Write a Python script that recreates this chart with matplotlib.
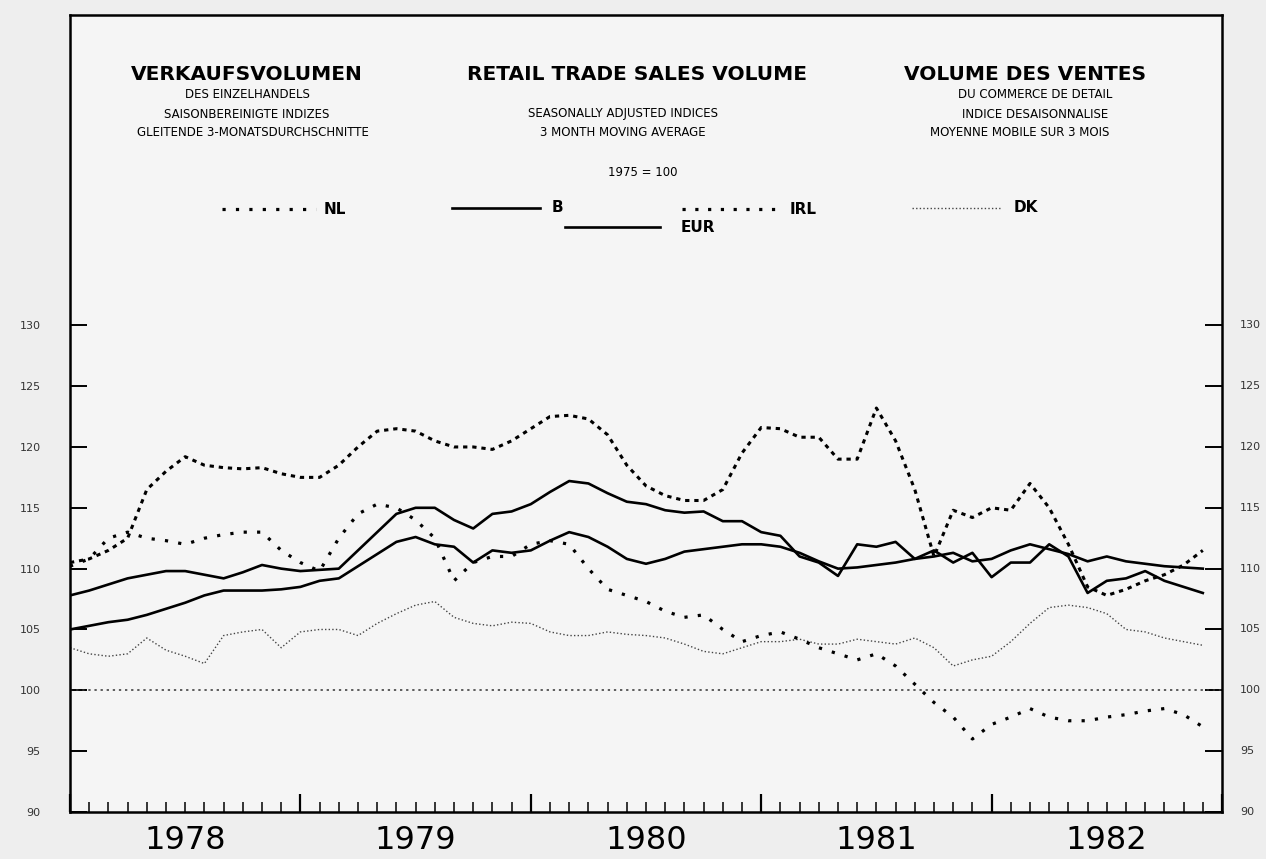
import matplotlib
matplotlib.use("Agg")
import matplotlib.pyplot as plt
import matplotlib.transforms as mtransforms
from matplotlib.ticker import FixedLocator, NullFormatter
import numpy as np

# ---------------- data (monthly, Jan 1978 .. Dec 1982) ----------------
start_year = 1978
months = list(range(60))

IRL = [110.5, 110.8, 111.5, 112.5, 116.5, 118.0, 119.2, 118.5, 118.3, 118.2,
       118.3, 117.8, 117.5, 117.5, 118.5, 120.0, 121.3, 121.5, 121.3, 120.5,
       120.0, 120.0, 119.8, 120.5, 121.5, 122.5, 122.6, 122.3, 121.0, 118.5,
       116.8, 116.0, 115.6, 115.6, 116.5, 119.5, 121.6, 121.5, 120.8, 120.8,
       119.0, 119.0, 123.2, 120.5, 116.5, 111.0, 114.8, 114.2, 115.0, 114.8,
       117.0, 115.0, 112.0, 108.5, 107.8, 108.3, 109.0, 109.5, 110.3, 111.5]

NL = [110.2, 110.8, 112.5, 113.0, 112.5, 112.3, 112.0, 112.5, 112.8, 113.0,
      113.0, 111.5, 110.5, 109.8, 112.5, 114.5, 115.3, 115.0, 114.0, 112.5,
      109.0, 110.5, 111.0, 111.0, 112.0, 112.3, 112.0, 110.0, 108.3, 107.8,
      107.3, 106.5, 106.0, 106.2, 105.0, 104.0, 104.5, 104.8, 104.2, 103.5,
      103.0, 102.5, 103.0, 102.0, 100.5, 99.0, 97.8, 96.0, 97.2, 97.8,
      98.5, 97.8, 97.5, 97.5, 97.8, 98.0, 98.3, 98.5, 98.0, 97.0]

DK = [103.5, 103.0, 102.8, 103.0, 104.3, 103.3, 102.8, 102.2, 104.5, 104.8,
      105.0, 103.5, 104.8, 105.0, 105.0, 104.5, 105.5, 106.3, 107.0, 107.3,
      106.0, 105.5, 105.3, 105.6, 105.5, 104.8, 104.5, 104.5, 104.8, 104.6,
      104.5, 104.3, 103.8, 103.2, 103.0, 103.5, 104.0, 104.0, 104.2, 103.8,
      103.8, 104.2, 104.0, 103.8, 104.3, 103.5, 102.0, 102.5, 102.8, 104.0,
      105.5, 106.8, 107.0, 106.8, 106.3, 105.0, 104.8, 104.3, 104.0, 103.7]

B = [107.8, 108.2, 108.7, 109.2, 109.5, 109.8, 109.8, 109.5, 109.2, 109.7,
     110.3, 110.0, 109.8, 109.9, 110.0, 111.5, 113.0, 114.5, 115.0, 115.0,
     114.0, 113.3, 114.5, 114.7, 115.3, 116.3, 117.2, 117.0, 116.2, 115.5,
     115.3, 114.8, 114.6, 114.7, 113.9, 113.9, 113.0, 112.7, 111.0, 110.5,
     109.4, 112.0, 111.8, 112.2, 110.8, 111.5, 110.5, 111.3, 109.3, 110.5,
     110.5, 112.0, 111.0, 108.0, 109.0, 109.2, 109.8, 109.0, 108.5, 108.0]

EUR = [105.0, 105.3, 105.6, 105.8, 106.2, 106.7, 107.2, 107.8, 108.2, 108.2,
       108.2, 108.3, 108.5, 109.0, 109.2, 110.2, 111.2, 112.2, 112.6, 112.0,
       111.8, 110.5, 111.5, 111.3, 111.5, 112.3, 113.0, 112.6, 111.8, 110.8,
       110.4, 110.8, 111.4, 111.6, 111.8, 112.0, 112.0, 111.8, 111.3, 110.6,
       110.0, 110.1, 110.3, 110.5, 110.8, 111.0, 111.3, 110.6, 110.8, 111.5,
       112.0, 111.6, 111.2, 110.6, 111.0, 110.6, 110.4, 110.2, 110.1, 110.0]

base_value = 100
years = [1978, 1979, 1980, 1981, 1982]
y_ticks = [90, 95, 100, 105, 110, 115, 120, 125, 130]

x = np.array([start_year + m / 12.0 for m in months])

# ---------------- figure ----------------
fig = plt.figure(figsize=(12.66, 8.59), dpi=100, facecolor="#eeeeee")
ax = fig.add_axes([70 / 1266, 47 / 859, 1152 / 1266, 797 / 859])
ax.set_facecolor("#f5f5f5")
ax.set_xlim(1978, 1983)
ax.set_ylim(90, 155.5)

for s in ax.spines.values():
    s.set_linewidth(1.8)
    s.set_color("black")

# reference line
ax.axhline(base_value, color="#333333", lw=1.1, ls=(0, (1.5, 2.5)))

# series
ax.plot(x, DK, color="#444444", lw=1.0, ls=(0, (1.0, 1.6)))
ax.plot(x, NL, color="black", lw=2.3, ls=(0, (1.0, 3.2)))
ax.plot(x, IRL, color="black", lw=2.2, ls=(0, (1.4, 1.6)))
ax.plot(x, B, color="black", lw=1.9, ls="-")
ax.plot(x, EUR, color="black", lw=1.9, ls="-")

# axes ticks
ax.yaxis.set_major_locator(FixedLocator(y_ticks))
ax.tick_params(axis="y", which="major", direction="in", length=12, width=1.4,
               left=True, right=True, labelleft=True, labelright=False,
               labelsize=8, labelcolor="#333333", pad=21)
ax.xaxis.set_major_locator(FixedLocator(years + [1983]))
ax.xaxis.set_minor_locator(FixedLocator([start_year + m / 12.0 for m in range(61)]))
ax.xaxis.set_major_formatter(NullFormatter())
ax.tick_params(axis="x", which="major", direction="in", length=13, width=1.6)
ax.tick_params(axis="x", which="minor", direction="in", length=7, width=1.1)

# right-hand labels
trans_r = mtransforms.blended_transform_factory(ax.transAxes, ax.transData)
for v in y_ticks:
    ax.text(1.0 + 18 / 1152, v, str(v), transform=trans_r, ha="left", va="center",
            fontsize=8, color="#333333")

# year labels
trans_x = mtransforms.blended_transform_factory(ax.transData, ax.transAxes)
for yr in years:
    ax.text(yr + 0.5, -0.036, str(yr), transform=trans_x, ha="center", va="center",
            fontsize=23, color="black", clip_on=False)

# title block (in pixel -> axes coordinates)
def axpos(px, py):
    return ((px - 70) / 1152.0, (812 - py) / 797.0)

def t(px, py, s, size, weight="normal"):
    ax.text(*axpos(px, py), s, transform=ax.transAxes, ha="center", va="center",
            fontsize=size, fontweight=weight, color="black",
            family="DejaVu Sans")

t(247, 74, "VERKAUFSVOLUMEN", 14.5, "bold")
t(247, 95, "DES EINZELHANDELS", 8.5)
t(247, 114, "SAISONBEREINIGTE INDIZES", 8.5)
t(253, 132, "GLEITENDE 3-MONATSDURCHSCHNITTE", 8.5)

t(637, 74, "RETAIL TRADE SALES VOLUME", 14.5, "bold")
t(623, 114, "SEASONALLY ADJUSTED INDICES", 8.5)
t(623, 132, "3 MONTH MOVING AVERAGE", 8.5)
t(643, 172, "1975 = 100", 8.5)

t(1025, 74, "VOLUME DES VENTES", 14.5, "bold")
t(1035, 95, "DU COMMERCE DE DETAIL", 8.5)
t(1035, 114, "INDICE DESAISONNALISE", 8.5)
t(1020, 132, "MOYENNE MOBILE SUR 3 MOIS", 8.5)

# legend drawn manually
def leg(px0, px1, py, style, lw, color, label, lx):
    (ax0, ay), (ax1, _) = axpos(px0, py), axpos(px1, py)
    ax.plot([ax0, ax1], [ay, ay], transform=ax.transAxes, color=color, lw=lw,
            ls=style, clip_on=False)
    ax.text(*axpos(lx, py), label, transform=ax.transAxes, ha="left", va="center",
            fontsize=11, fontweight="bold", color="black")

leg(222, 316, 209, (0, (1.0, 3.2)), 2.3, "black", "NL", 324)
leg(452, 540, 208, "-", 1.9, "black", "B", 552)
leg(682, 776, 209, (0, (1.0, 3.0)), 2.3, "black", "IRL", 790)
leg(912, 1000, 208, (0, (1.0, 1.6)), 1.0, "#444444", "DK", 1014)
leg(565, 660, 227, "-", 1.9, "black", "EUR", 681)

fig.savefig("out.png", dpi=100, facecolor=fig.get_facecolor())
